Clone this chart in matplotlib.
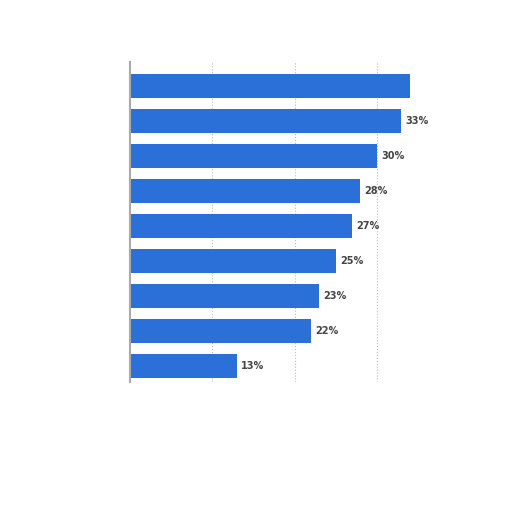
import matplotlib.pyplot as plt

# share of respondents (%), top to bottom
values = [34, 33, 30, 28, 27, 25, 23, 22, 13]
labels = ["", "33%", "30%", "28%", "27%", "25%", "23%", "22%", "13%"]
grid_ticks = [10, 20, 30]

fig = plt.figure(figsize=(5.12, 5.12), dpi=100)
ax = fig.add_axes([0.254, 0.254, 0.551, 0.625])

pos = list(range(len(values)))
ax.barh(pos, values, height=0.69, color="#2a70d8", zorder=2)

for y, v, lab in zip(pos, values, labels):
    ax.text(v + 0.5, y, lab, va="center", ha="left", fontsize=7,
            color="#444444", fontweight="bold")

ax.set_xlim(0, 34.3)
ax.set_ylim(len(values) - 1 + 0.457, -0.686)
ax.set_xticks(grid_ticks)
ax.set_yticks([])
ax.tick_params(axis="x", length=0, labelbottom=False)
ax.grid(axis="x", linestyle=":", color="#bbbbbb", linewidth=0.8, zorder=0)

for side in ["top", "right", "bottom"]:
    ax.spines[side].set_visible(False)
ax.spines["left"].set_color("#aaaaaa")
ax.spines["left"].set_linewidth(1.5)

fig.savefig("out.png", dpi=100)
